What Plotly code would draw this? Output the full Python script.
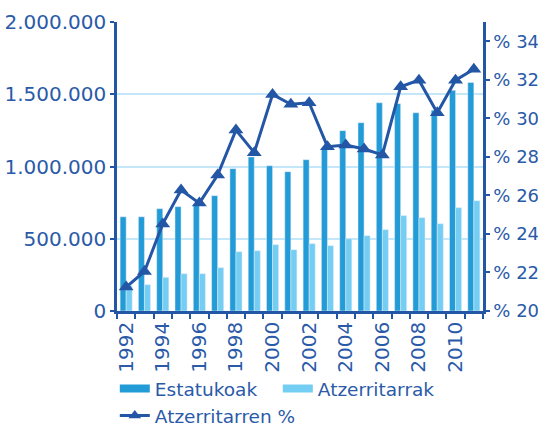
import plotly.graph_objects as go

# Annual figures, 1992-2011
years = list(range(1992, 2012))
estatukoak = [652000, 652000, 708000, 722000, 740000, 798000, 985000, 1066000, 1005000, 964000,
              1047000, 1130000, 1248000, 1303000, 1441000, 1435000, 1372000, 1390000, 1527000, 1582000]
atzerritarrak = [175000, 182000, 233000, 258000, 258000, 300000, 410000, 417000, 459000, 424000,
                 466000, 452000, 500000, 521000, 563000, 660000, 646000, 604000, 715000, 763000]
atzerritarren_pct = [21.24, 22.05, 24.52, 26.28, 25.6, 27.06, 29.39, 28.22, 31.24, 30.73,
                     30.81, 28.53, 28.62, 28.41, 28.1, 31.64, 31.98, 30.29, 31.98, 32.55]

left_ticks = [0, 500000, 1000000, 1500000, 2000000]
right_ticks = [20, 22, 24, 26, 28, 30, 32, 34]
right_labels = ["% " + str(v) for v in right_ticks]
year_labels = list(range(1992, 2011, 2))

DARK = "#229bd7"
LIGHT = "#74cdf2"
NAVY = "#2456a6"
TEXT = "#2a5aa8"
GRID = "#c3e6f8"
FONT = "DejaVu Sans"
TICK_SIZE = 20
RIGHT_SIZE = 18
LEGEND_SIZE = 18.5

fig = go.Figure()

fig.add_trace(go.Bar(x=years, y=estatukoak, name="Estatukoak", marker_color=DARK,
                     showlegend=False))
fig.add_trace(go.Bar(x=years, y=atzerritarrak, name="Atzerritarrak", marker_color=LIGHT,
                     showlegend=False))
fig.add_trace(go.Scatter(x=years, y=atzerritarren_pct, yaxis="y2", mode="lines+markers",
                         name="Atzerritarren %", showlegend=False,
                         line=dict(color=NAVY, width=3),
                         marker=dict(symbol="triangle-up", size=13, color=NAVY)))

# legend entries with wide colour swatches
fig.add_trace(go.Scatter(x=[None], y=[None], mode="lines", name="Estatukoak",
                         line=dict(color=DARK, width=8), legend="legend"))
fig.add_trace(go.Scatter(x=[None], y=[None], mode="lines", name="Atzerritarrak",
                         line=dict(color=LIGHT, width=8), legend="legend"))
fig.add_trace(go.Scatter(x=[None], y=[None], yaxis="y2", mode="lines+markers",
                         name="Atzerritarren %", legend="legend2",
                         line=dict(color=NAVY, width=3),
                         marker=dict(symbol="triangle-up", size=11, color=NAVY)))

fig.update_layout(
    width=538, height=427,
    margin=dict(l=117, r=55, t=22, b=116, autoexpand=False),
    paper_bgcolor="white", plot_bgcolor="white",
    separators=",.",
    barmode="group", bargap=0.34, bargroupgap=0,
    font=dict(family=FONT, size=LEGEND_SIZE, color=TEXT),
    xaxis=dict(
        range=[1991.5, 2011.5], automargin=False,
        tickmode="array", tickvals=year_labels, ticktext=[str(y) for y in year_labels],
        tickangle=-90, ticks="", showgrid=False, zeroline=False,
        showline=True, linecolor=NAVY, linewidth=2.5,
        tickfont=dict(family=FONT, size=TICK_SIZE, color=TEXT),
        minor=dict(tick0=1991.5, dtick=1, ticks="outside", ticklen=5,
                   tickcolor=NAVY, tickwidth=1.5, showgrid=False),
    ),
    yaxis=dict(
        range=[0, 2000000], automargin=False,
        tickmode="array", tickvals=left_ticks, tickformat=",d",
        ticks="outside", ticklen=4, tickcolor=NAVY, tickwidth=1.5,
        showline=True, linecolor=NAVY, linewidth=2.5,
        showgrid=True, gridcolor=GRID, gridwidth=1.5, zeroline=False,
        tickfont=dict(family=FONT, size=TICK_SIZE, color=TEXT),
    ),
    yaxis2=dict(
        range=[20, 35], overlaying="y", side="right", anchor="x", automargin=False,
        tickmode="array", tickvals=right_ticks, ticktext=right_labels,
        ticks="outside", ticklen=4, tickcolor=NAVY, tickwidth=1.5,
        showline=True, linecolor=NAVY, linewidth=2.5,
        showgrid=False, zeroline=False,
        tickfont=dict(family=FONT, size=RIGHT_SIZE, color=TEXT),
    ),
    legend=dict(orientation="h", x=-0.006, xanchor="left", y=-0.204, yanchor="top",
                font=dict(family=FONT, size=LEGEND_SIZE, color=TEXT),
                entrywidth=118, entrywidthmode="pixels",
                itemwidth=30, tracegroupgap=0, bgcolor="rgba(0,0,0,0)"),
    legend2=dict(orientation="h", x=-0.006, xanchor="left", y=-0.2976, yanchor="top",
                 font=dict(family=FONT, size=LEGEND_SIZE, color=TEXT),
                 itemwidth=30, bgcolor="rgba(0,0,0,0)"),
)

fig.write_html("out.html")
